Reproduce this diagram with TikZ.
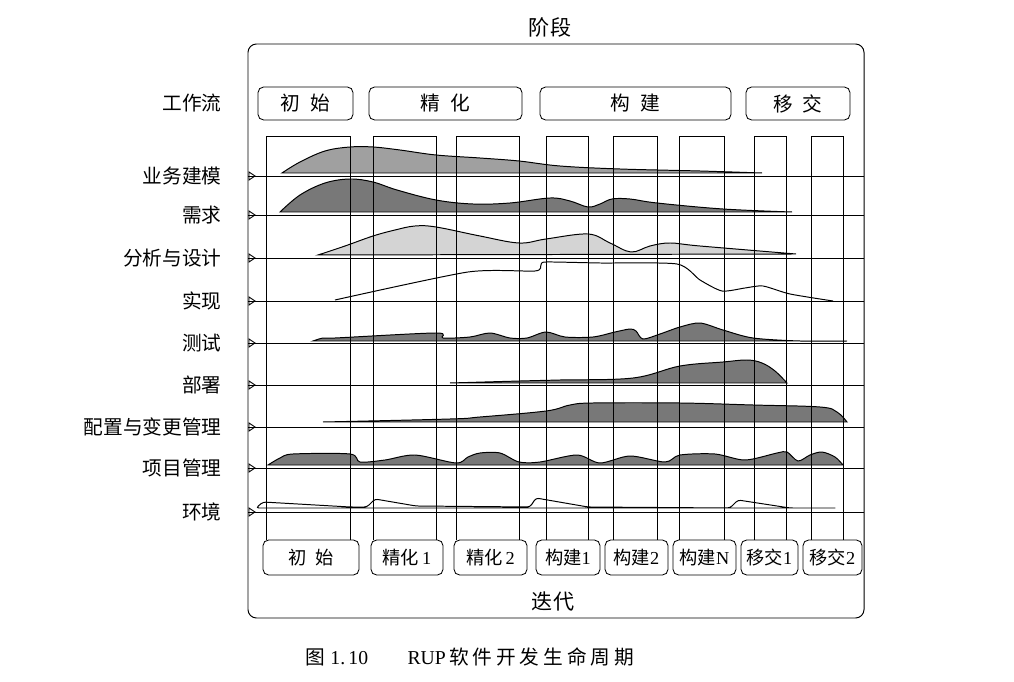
\documentclass[tikz,border=0pt]{standalone}
\usepackage{fontspec}
\setmainfont{Liberation Serif}
\newfontfamily\cjk{Noto Sans CJK SC}
\newfontfamily\cjkwide{Noto Sans CJK SC}[LetterSpace=20]
\usetikzlibrary{arrows.meta, positioning}
\definecolor{flowmid}{RGB}{160,160,160}
\definecolor{flowdark}{RGB}{120,120,120}
\definecolor{flowlight}{RGB}{212,212,212}

\begin{document}
\begin{tikzpicture}[x=0.025cm, y=-0.025cm, line width=0.6pt,
    phasebox/.style={draw, rounded corners=4pt, minimum height=0.825cm, inner sep=0pt, font=\cjk\fontsize{14}{16}\selectfont},
    iterbox/.style={draw, rounded corners=4pt, minimum height=0.875cm, inner sep=0pt, font=\fontsize{13}{15}\selectfont},
    wflabel/.style={anchor=east, inner sep=0pt, font=\cjk\fontsize{14}{16}\selectfont},
    flow/.style={draw, line width=0.7pt}]
    \useasboundingbox (0,0) rectangle (1014,682);
    \draw[line width=0.7pt, rounded corners=6pt] (248,44) rectangle (864,618);
    \node[font=\cjk\fontsize{15}{17}\selectfont] (stage) at (550,27) {阶段};
    \node[font=\cjk\fontsize{15}{17}\selectfont] (iter) at (553,602) {迭代};
    \node[font=\fontsize{14}{16}\selectfont] (caption) at (470,657) {{\cjk 图}\ 1.\,10\qquad RUP\,{\cjkwide 软件开发生命周期}};

    \node[phasebox, minimum width=2.375cm] (p1) at (305.5,103.5) {初\enspace 始};
    \node[phasebox, minimum width=3.825cm] (p2) at (445.5,103.5) {精\enspace 化};
    \node[phasebox, minimum width=4.775cm] (p3) at (635.5,103.5) {构\enspace 建};
    \node[phasebox, minimum width=2.6cm] (p4) at (798,103.5) {移\enspace 交};

    \node[iterbox, minimum width=2.4cm] (b1) at (311,557.5) {{\cjk 初\enspace 始}};
    \node[iterbox, minimum width=1.8cm] (b2) at (407,557.5) {{\cjk 精化}\,1};
    \node[iterbox, minimum width=1.825cm] (b3) at (490.5,557.5) {{\cjk 精化}\,2};
    \node[iterbox, minimum width=1.6cm] (b4) at (568,557.5) {{\cjk 构建}1};
    \node[iterbox, minimum width=1.575cm] (b5) at (636.5,557.5) {{\cjk 构建}2};
    \node[iterbox, minimum width=1.575cm] (b6) at (704.5,557.5) {{\cjk 构建}N};
    \node[iterbox, minimum width=1.425cm] (b7) at (769.5,557.5) {{\cjk 移交}1};
    \node[iterbox, minimum width=1.475cm] (b8) at (832.5,557.5) {{\cjk 移交}2};

    \node[wflabel] (wf) at (222,103) {工作流};

    % business modeling
    \filldraw[flow, fill=flowmid] plot[smooth, tension=0.6] coordinates {(282,173) (300,162) (325,151) (350,147) (373,147) (400,150) (436,155) (480,158) (519,161) (560,166) (620,169) (700,171) (762,173)} -- cycle;
    % requirements
    \filldraw[flow, fill=flowdark] plot[smooth, tension=0.6] coordinates {(280,212) (300,195) (325,183) (350,179) (373,182) (397,190) (436,200) (473,204) (510,203) (550,198) (570,201) (588,207) (600,204) (612,199) (630,199) (657,203) (723,209) (792,212)} -- cycle;
    % analysis & design
    \filldraw[flow, fill=flowlight] plot[smooth, tension=0.6] coordinates {(318,255) (345,246) (373,236) (395,230) (415,226) (436,227) (480,236) (519,243) (546,239) (588,234) (610,243) (631,252) (650,246) (670,243) (700,246) (796,254)} -- cycle;
    % implementation
    \draw[flow] plot[smooth, tension=0.4] coordinates {(335,300) (468,272) (535,271) (541,265) (546,262) (600,263) (677,264) (700,280) (722,291) (745,288) (763,286) (790,294) (833,301)};
    % test
    \filldraw[flow, fill=flowdark] plot[smooth, tension=0.5] coordinates {(313,341) (323,338) (335,338) (436,333) (443,338) (470,337) (490,333) (510,338) (527,338) (546,332) (565,337) (593,337) (615,332) (630,329) (636,331) (643,339) (660,334) (680,327) (700,323) (723,330) (753,338) (800,341) (847,341)} -- cycle;
    % deployment
    \filldraw[flow, fill=flowdark] plot[smooth, tension=0.6] coordinates {(450,383) (520,381) (560,380) (633,378) (680,366) (723,362) (747,360) (762,363) (775,371) (787,383)} -- cycle;
    % configuration
    \filldraw[flow, fill=flowdark] plot[smooth, tension=0.6] coordinates {(323,422) (450,419) (480,417) (546,411) (570,405) (593,403) (680,403) (753,405) (820,407) (837,412) (847,422)} -- cycle;
    % project management
    \filldraw[flow, fill=flowdark] plot[smooth, tension=0.5] coordinates {(268,465) (280,458) (293,454) (350,454) (360,462) (385,460) (415,455) (456,463) (468,457) (480,453) (500,453) (519,462) (540,462) (577,455) (600,463) (630,456) (665,462) (680,455) (715,454) (745,460) (777,453) (787,452) (798,461) (810,455) (822,452) (835,457) (843,465)} -- cycle;
    % environment
    \draw[flow, rounded corners=2pt] (256,508) -- (263,502) -- (350,507) -- (367,507) -- (375,499) -- (416,506) -- (530,507) -- (536,498) -- (588,507) -- (730,508) -- (738,500) -- (790,508) -- (837,508) -- cycle;

    \foreach \a/\b [count=\i] in {266/350, 373/436, 456/519, 546/588, 613/657, 679/724, 754/786, 811/843}
        \draw (\a,540) -- (\a,136) -- (\b,136) -- (\b,540);

    \foreach \y/\t [count=\i] in {176/业务建模, 215/需求, 258/分析与设计, 301/实现, 343/测试, 385/部署, 427/配置与变更管理, 468/项目管理, 512/环境} {
        \node[wflabel] (w\i) at (222,\y) {\t};
        \draw (248,\y) -- (864,\y);
        \draw (249,{\y-4}) -- (255,\y) -- (249,{\y+4}) -- cycle;
    }
\end{tikzpicture}
\end{document}
